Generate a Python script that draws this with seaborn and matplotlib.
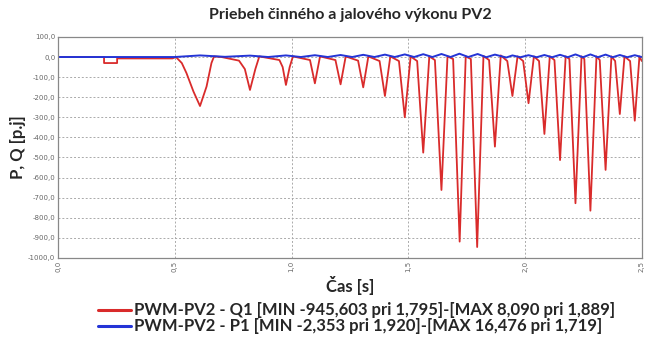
import pandas as pd
import matplotlib
matplotlib.use("Agg")
import matplotlib.pyplot as plt
import seaborn as sns
from matplotlib.lines import Line2D

# Q1 (reactive power)
q_time = [0.0, 0.197, 0.197, 0.253, 0.253, 0.49, 0.505, 0.53, 0.55, 0.58, 0.608, 0.636, 0.657, 0.668, 0.70,
          0.775, 0.800, 0.822, 0.845, 0.862, 0.948, 0.962, 0.976, 0.992, 1.006,
          1.079, 1.100, 1.122, 1.188, 1.210, 1.232,
          1.285, 1.307, 1.329, 1.377, 1.400, 1.423, 1.460, 1.485, 1.510, 1.538, 1.564, 1.590,
          1.614, 1.642, 1.668, 1.692, 1.720, 1.746, 1.768, 1.795, 1.822, 1.846, 1.871, 1.896,
          1.924, 1.946, 1.968, 1.992, 2.015, 2.038, 2.060, 2.083, 2.106, 2.126, 2.150, 2.174,
          2.190, 2.216, 2.242, 2.254, 2.280, 2.306, 2.320, 2.345, 2.370, 2.386, 2.406, 2.426,
          2.450, 2.470, 2.490, 2.500]
q_vals = [0, 0, -30, -30, -7, -7, 0, -30, -80, -172, -244, -147, -30, 3, 0,
          -18, -60, -164, -60, 3, -15, -50, -139, -50, 3,
          -15, -131, 3, -15, -136, 3,
          -18, -151, 3, -20, -194, 3, -20, -300, 3, -20, -476, 3,
          -15, -662, 3, -10, -919, 3, -10, -946, 5, -15, -446, 8,
          -20, -194, 3, -20, -230, 3, -20, -383, 3, -15, -513, 3,
          -10, -728, 3, -10, -765, 3, -15, -562, 3, -20, -284, 3,
          -20, -317, 3, -20]

# P1 (active power)
p_time = [0.0, 0.5, 0.608, 0.715, 0.822, 0.90, 0.976, 1.04, 1.100, 1.155, 1.210, 1.26, 1.307, 1.355,
          1.400, 1.442, 1.485, 1.525, 1.564, 1.603, 1.642, 1.681, 1.719, 1.757, 1.797, 1.834,
          1.871, 1.92, 1.946, 1.98, 2.015, 2.05, 2.083, 2.116, 2.150, 2.183, 2.216, 2.248,
          2.280, 2.312, 2.345, 2.375, 2.406, 2.438, 2.470, 2.5]
p_vals = [0, 0, 8, 1, 7, 0, 8, 0, 9, 0, 10, 0, 11, 0,
          12, 0, 13, 0, 14, 0, 15, 0, 16.5, 0, 15, -1,
          12, -2.4, 8, -1, 9, -1, 10, -1, 11, -1, 13, -1,
          13, -1, 12, -1, 10, -1, 9, 0]

x_ticks = [0.0, 0.5, 1.0, 1.5, 2.0, 2.5]
y_ticks = [100, 0, -100, -200, -300, -400, -500, -600, -700, -800, -900, -1000]

labels = ["PWM-PV2 - Q1 [MIN -945,603 pri 1,795]-[MAX 8,090 pri 1,889]",
          "PWM-PV2 - P1 [MIN -2,353 pri 1,920]-[MAX 16,476 pri 1,719]"]
red = "#d92b2b"
blue = "#2434d6"

sns.set_style("white")
plt.rcParams["font.family"] = ["Lato", "DejaVu Sans"]

fig = plt.figure(figsize=(6.45, 3.42), dpi=100)
ax = fig.add_axes([0.09, 0.246, 0.905, 0.646])

df_q = pd.DataFrame({"t": q_time, "v": q_vals})
df_p = pd.DataFrame({"t": p_time, "v": p_vals})
sns.lineplot(data=df_q, x="t", y="v", sort=False, estimator=None, color=red, lw=1.3, ax=ax)
sns.lineplot(data=df_p, x="t", y="v", sort=False, estimator=None, color=blue, lw=1.4, ax=ax)

ax.set_xlim(0, 2.5)
ax.set_ylim(-1000, 100)
ax.set_xticks(x_ticks)
ax.set_xticklabels([f"{v:.1f}".replace(".", ",") for v in x_ticks], rotation=90,
                   fontsize=5, color="#666666", family="DejaVu Sans")
ax.set_yticks(y_ticks)
ax.set_yticklabels([f"{v:.1f}".replace(".", ",") for v in y_ticks],
                   fontsize=5, color="#666666", family="DejaVu Sans")
ax.tick_params(length=0, pad=2)
ax.grid(True, ls=(0, (2, 2)), color="#aaaaaa", lw=0.7)
for s in ax.spines.values():
    s.set_color("#888888")
    s.set_linewidth(0.9)

ax.set_title("Priebeh činného a jalového výkonu PV2", fontsize=11.5, fontweight="bold", pad=13)
ax.set_xlabel("Čas [s]", fontsize=12, fontweight="bold")
ax.set_ylabel("P, Q [p.j]", fontsize=12, fontweight="bold")
ax.xaxis.set_label_coords(0.5, -0.125)
ax.yaxis.set_label_coords(-0.068, 0.5)
ax.xaxis.label.set_va("center")
ax.yaxis.label.set_va("center")

handles = [Line2D([], [], color=red, lw=2.2), Line2D([], [], color=blue, lw=2.2)]
fig.legend(handles, labels, loc="upper center", bbox_to_anchor=(0.553, 0.135), frameon=False,
           prop={"size": 12, "weight": "bold"}, handlelength=2.0, handletextpad=0.2,
           labelspacing=0.0, borderaxespad=0)

fig.savefig("out.png", dpi=100)
